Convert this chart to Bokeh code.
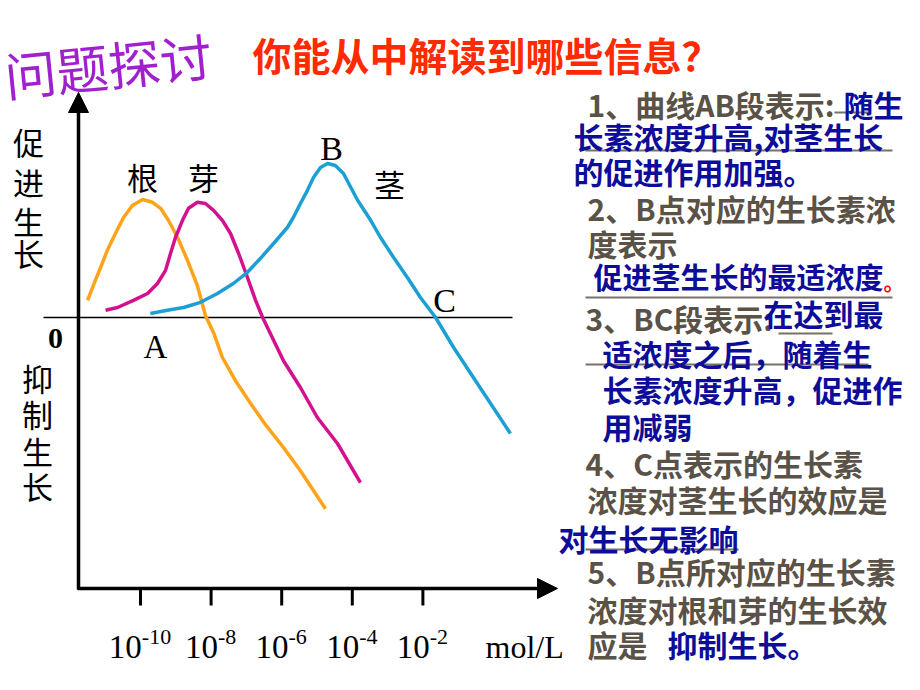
from bokeh.plotting import figure
from bokeh.models import Range1d, Label, Arrow, NormalHead
from bokeh.embed import file_html
from bokeh.resources import INLINE

# ---------------- data (log10 concentration in mol/L, growth effect in arbitrary units) -------------
root_logc = [-11.50, -11.28, -11.13, -10.94, -10.71, -10.48, -10.23, -9.94, -9.66, -9.43, -9.21, -8.95,
             -8.67, -8.39, -8.16, -7.93, -7.68, -7.31, -6.88, -6.46, -5.95, -5.47, -4.76]
root_growth = [0.43, 0.93, 1.25, 1.68, 2.10, 2.50, 2.80, 2.95, 2.88, 2.73, 2.43, 2.00,
               1.43, 0.80, 0.05, -0.38, -1.00, -1.58, -2.15, -2.68, -3.25, -3.83, -4.78]

bud_logc = [-10.99, -10.65, -10.20, -9.80, -9.52, -9.29, -9.15, -9.01, -8.81, -8.64, -8.39, -8.16,
            -7.93, -7.68, -7.45, -7.22, -6.97, -6.74, -6.54, -5.95, -5.47, -4.99, -4.42, -3.77]
bud_growth = [0.18, 0.25, 0.43, 0.60, 0.85, 1.18, 1.60, 2.00, 2.43, 2.73, 2.88, 2.85,
              2.68, 2.43, 2.10, 1.60, 1.00, 0.43, 0.0, -1.08, -1.75, -2.50, -3.15, -4.13]

stem_logc = [-9.72, -9.24, -8.78, -8.30, -7.82, -7.37, -6.97, -6.60, -6.23, -5.84, -5.67, -5.47,
             -5.27, -5.10, -4.90, -4.70, -4.48, -4.25, -3.85, -3.48, -3.20, -2.83, -2.44, -2.07,
             -1.64, -1.13, -0.57, 0.48]
stem_growth = [0.10, 0.18, 0.25, 0.38, 0.60, 0.85, 1.13, 1.48, 1.85, 2.25, 2.50, 2.85,
               3.18, 3.50, 3.75, 3.85, 3.80, 3.60, 2.93, 2.43, 2.00, 1.50, 1.00, 0.50,
               0.0, -0.75, -1.50, -2.90]

tick_exponents = [-10, -8, -6, -4, -2]
unit_label = "mol/L"
curve_names = ["根", "芽", "茎"]
point_names = ["A", "B", "C"]
y_label_up = "促进生长"
y_label_down = "抑制生长"

# ---------------- layout helpers (image pixel -> data) ----------------
W, H = 904, 674
PX0, PXS = 140.0, 35.3   # image x of 10^-10 and pixels per decade
PY0, PYS = 317.0, 40.0   # image y of zero growth and pixels per unit


def X(px):
    return (px - PX0) / PXS - 10


def Y(py):
    return (PY0 - py) / PYS


p = figure(width=W, height=H, x_range=Range1d(X(0), X(W)), y_range=Range1d(Y(H), Y(0)),
           output_backend="svg", toolbar_location=None, min_border=0,
           x_axis_location=None, y_axis_location=None, outline_line_color=None)
p.grid.visible = False
p.background_fill_color = "white"
p.border_fill_color = "white"

CJK = "Noto Sans CJK SC"
SERIF = "Liberation Serif"


def lab(text, px, py, size, color="black", font=CJK, style="normal", align="left",
        baseline="middle", angle=0.0):
    p.add_layout(Label(x=X(px), y=Y(py), text=text, text_font=font, text_font_size=f"{size}px",
                       text_color=color, text_font_style=style, text_align=align,
                       text_baseline=baseline, angle=angle))


# ---------------- axes ----------------
p.line([X(43), X(512)], [0, 0], line_color="black", line_width=1.5)
p.add_layout(Arrow(end=NormalHead(size=20, fill_color="black", line_color="black"),
                   x_start=X(78), y_start=Y(589), x_end=X(78), y_end=Y(92),
                   line_width=3.5, line_color="black"))
p.add_layout(Arrow(end=NormalHead(size=20, fill_color="black", line_color="black"),
                   x_start=X(77), y_start=Y(588), x_end=X(557), y_end=Y(588),
                   line_width=3.5, line_color="black"))
p.segment(x0=tick_exponents, y0=[Y(588)] * len(tick_exponents), x1=tick_exponents,
          y1=[Y(605)] * len(tick_exponents), line_color="black", line_width=3)

for e in tick_exponents:
    sup = f"-{abs(e)}"
    sw = (0.333 + 0.5 * len(str(abs(e)))) * 22
    off = 16 - sw / 2
    p.add_layout(Label(x=e, y=Y(646), x_offset=off, text="10", text_font=SERIF, text_font_size="33px",
                       text_align="right", text_baseline="alphabetic", text_color="black"))
    p.add_layout(Label(x=e, y=Y(636), x_offset=off, text=sup, text_font=SERIF, text_font_size="22px",
                       text_align="left", text_baseline="alphabetic", text_color="black"))
lab(unit_label, 485, 646, 32, font=SERIF, baseline="alphabetic")

# ---------------- curves ----------------
p.line(root_logc, root_growth, line_color="#ffa31a", line_width=3.5, line_join="round")
p.line(bud_logc, bud_growth, line_color="#d5108f", line_width=3.5, line_join="round")
p.line(stem_logc, stem_growth, line_color="#1ca0d4", line_width=3.5, line_join="round")

# ---------------- chart labels ----------------
lab(curve_names[0], 142, 176, 31, align="center")
lab(curve_names[1], 203, 176, 31, align="center")
lab(curve_names[2], 389, 183, 31, align="center")
lab(point_names[0], 155, 346, 33, font=SERIF, align="center")
lab(point_names[1], 331, 148, 34, font=SERIF, align="center")
lab(point_names[2], 444, 300, 34, font=SERIF, align="center")
lab("0", 55, 338, 30, font=SERIF, style="bold", align="center")
for ch, cy in zip(y_label_up, [141, 181, 220, 252]):
    lab(ch, 28, cy, 31, align="center")
for ch, cy in zip(y_label_down, [377, 413, 450, 485]):
    lab(ch, 37, cy, 31, align="center")

# ---------------- titles ----------------
lab("问题探讨", 4, 74, 52, color="#a020d0", baseline="alphabetic", angle=0.1)
lab("你能从中解读到哪些信息？", 252, 53, 39, color="#ff2a00", style="bold")

# ---------------- right-hand notes ----------------
G = "#5a5246"
B = "#0d0d99"
R = "#ff0000"
notes = [
    ("1、曲线AB段表示:", 587, 103, G, 30),
    ("随生", 843, 103, B, 30),
    ("长素浓度升高,对茎生长", 573, 135, B, 30),
    ("的促进作用加强。", 573, 170, B, 30),
    ("2、B点对应的生长素浓", 587, 207, G, 30),
    ("度表示", 587, 242, G, 30),
    ("促进茎生长的最适浓度", 593, 275, B, 29),
    ("。", 883, 280, R, 21),
    ("3、BC段表示:", 585, 317, G, 30),
    ("在达到最", 763, 312, B, 30),
    ("适浓度之后，随着生", 602, 352, B, 30),
    ("长素浓度升高，促进作", 602, 388, B, 30),
    ("用减弱", 602, 425, B, 30),
    ("4、C点表示的生长素", 585, 462, G, 30),
    ("浓度对茎生长的效应是", 587, 498, G, 30),
    ("对生长无影响", 558, 537, B, 30),
    ("5、B点所对应的生长素", 587, 570, G, 30),
    ("浓度对根和芽的生长效", 587, 608, G, 30),
    ("应是", 587, 643, G, 30),
    ("抑制生长。", 667, 643, B, 30),
]
for t, px, py, c, s in notes:
    lab(t, px, py, s, color=c, style="bold")

underlines = [(834, 868, 112), (585, 892, 150), (585, 892, 297), (778, 832, 333),
              (585, 868, 364), (585, 738, 549)]
p.segment(x0=[X(a) for a, b, y in underlines], y0=[Y(y) for a, b, y in underlines],
          x1=[X(b) for a, b, y in underlines], y1=[Y(y) for a, b, y in underlines],
          line_color="#77706a", line_width=2)

open("out.html", "w").write(file_html(p, INLINE))
